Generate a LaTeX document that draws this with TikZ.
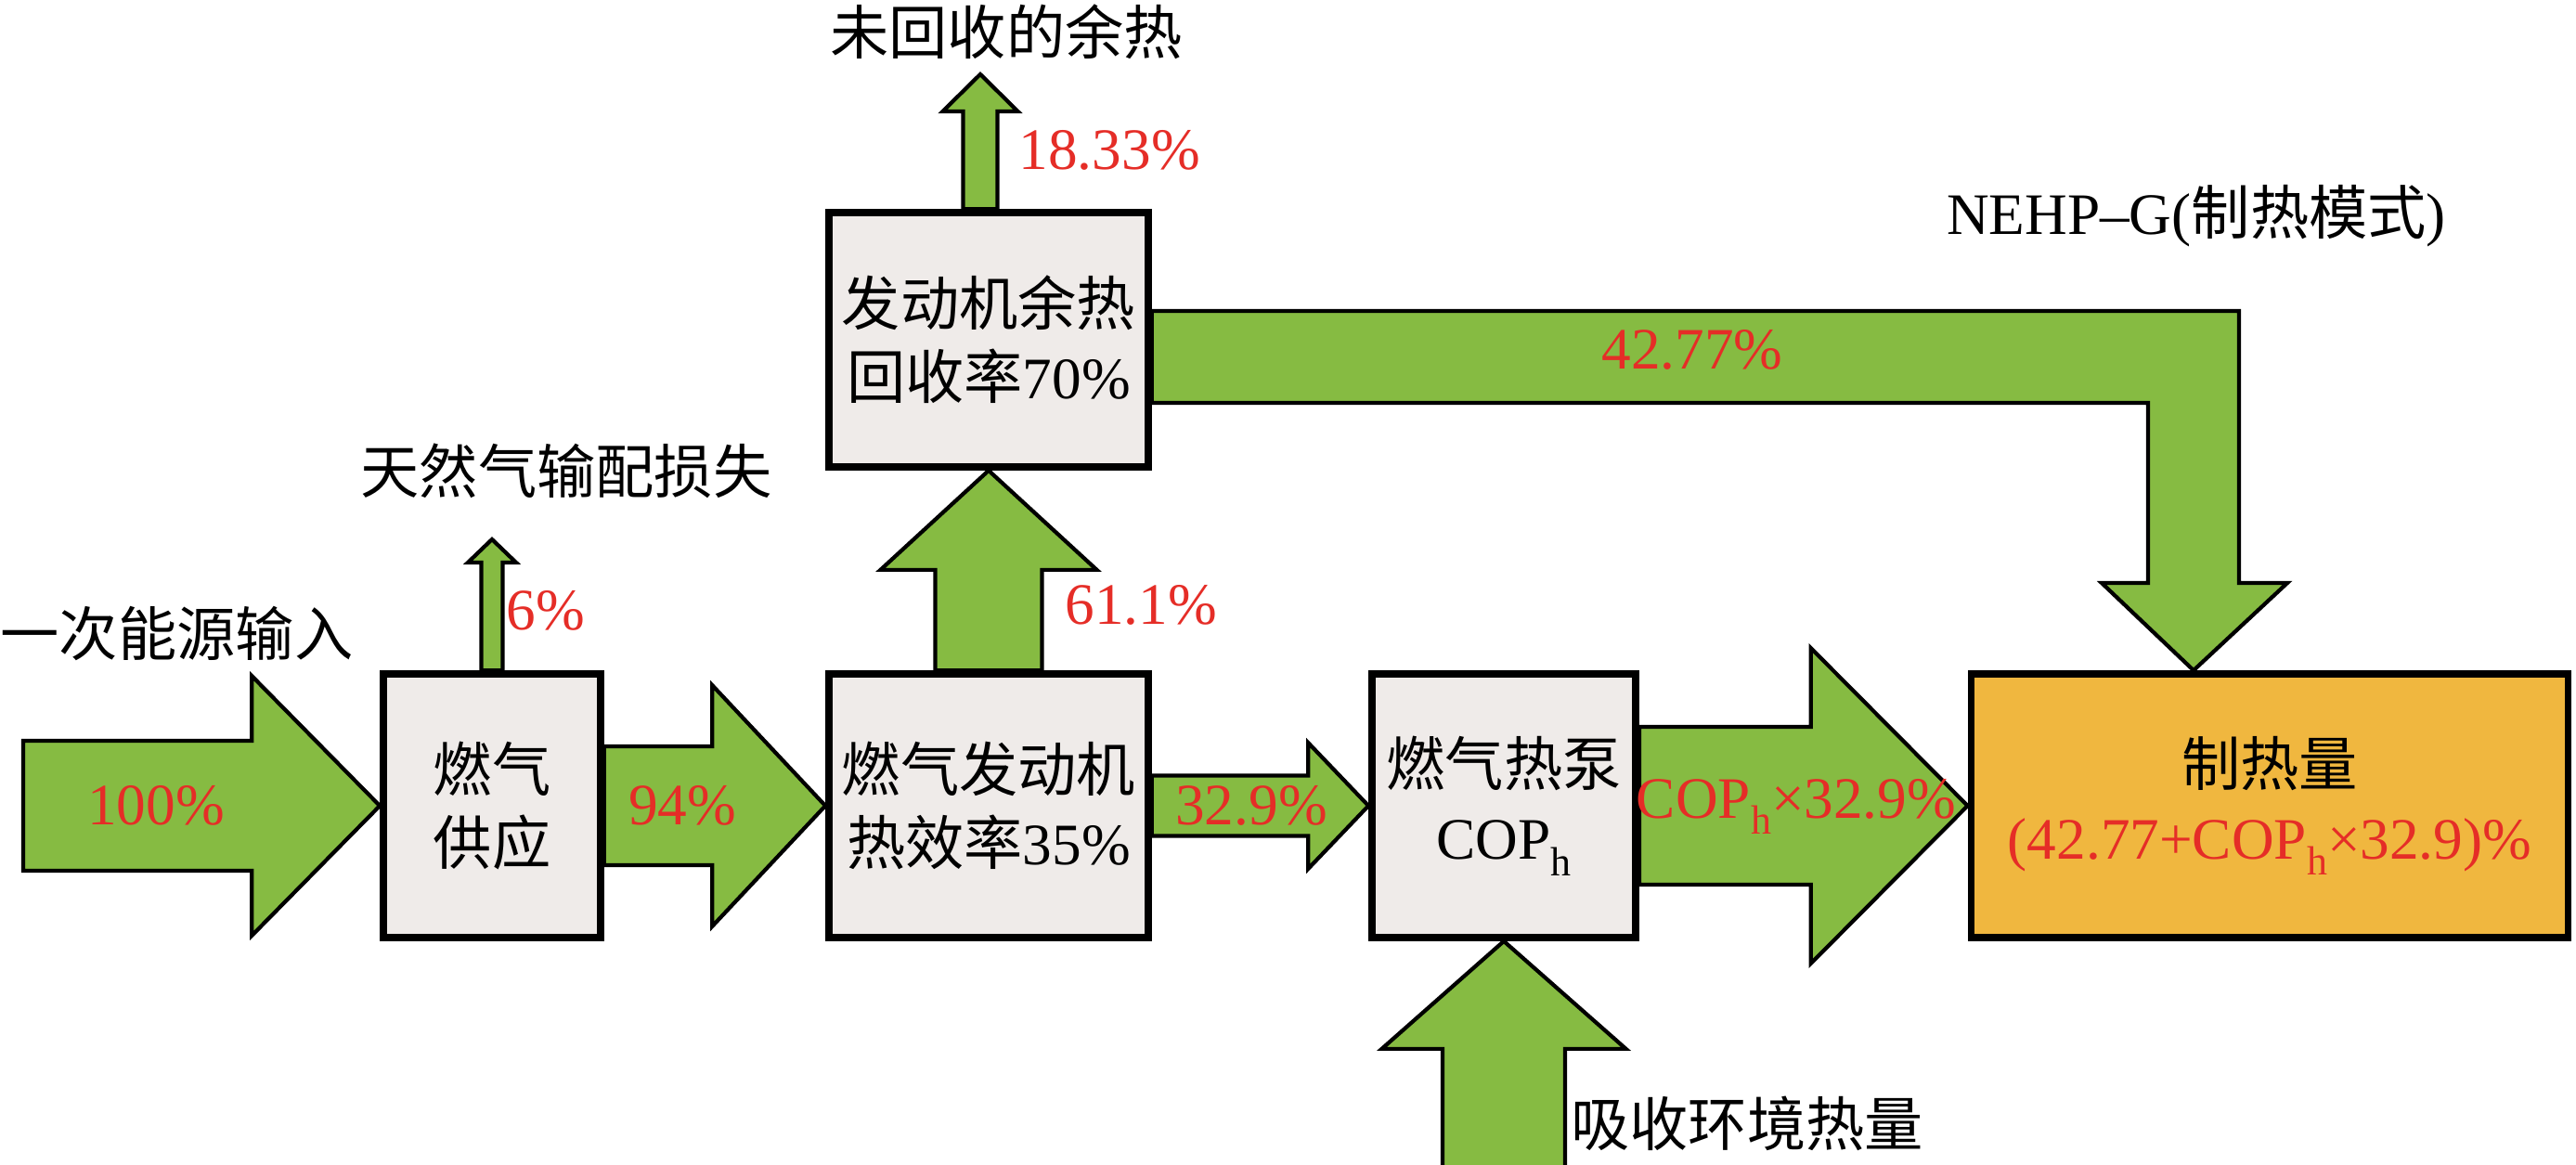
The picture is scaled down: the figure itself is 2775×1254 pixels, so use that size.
\documentclass[tikz,border=0pt]{standalone}
\usepackage{fontspec}
\setmainfont{Liberation Serif}
\newfontfamily\cjk{Noto Sans CJK SC}
\usetikzlibrary{calc}

\definecolor{flowgreen}{RGB}{134,187,66}
\definecolor{boxgray}{RGB}{239,235,233}
\definecolor{heatorange}{RGB}{240,183,63}
\definecolor{numred}{RGB}{229,45,39}

\newcommand{\COPh}{COP\raisebox{-0.6ex}{\fontsize{12.5}{12.5}\selectfont h}}
% block arrow: #1 from, #2 tip, #3 half shaft, #4 half head, #5 head length
\newcommand{\flowarrow}[5]{%
  \coordinate (h) at ($(#2)!#5!(#1)$);
  \draw[flow] ($(#1)!#3!90:(#2)$) -- ($(h)!#3!90:(#2)$) -- ($(h)!#4!90:(#2)$)
    -- (#2) -- ($(h)!#4!-90:(#2)$) -- ($(h)!#3!-90:(#2)$) -- ($(#1)!#3!-90:(#2)$) -- cycle;}

\begin{document}
\begin{tikzpicture}[x=0.1mm,y=-0.1mm,
  every node/.style={font=\fontsize{18}{22.5}\selectfont,inner sep=0pt},
  block/.style={draw,line width=2.2pt,fill=boxgray,align=center,minimum height=28.4mm},
  flow/.style={draw,line width=1.2pt,fill=flowgreen,line join=miter},
  num/.style={text=numred}]
\useasboundingbox (0,0) rectangle (2775,1254);
\clip (0,0) rectangle (2775,1254);

\node[block,minimum width=23.4mm] (sup) at (530,868) {{\cjk 燃气}\\{\cjk 供应}};
\node[block,minimum width=34.4mm] (eng) at (1065,868) {{\cjk 燃气发动机}\\{\cjk 热效率}35\%};
\node[block,minimum width=34.4mm,minimum height=27.4mm] (rec) at (1065,366) {{\cjk 发动机余热}\\{\cjk 回收率}70\%};
\node[block,minimum width=28.4mm] (hp) at (1620,868) {{\cjk 燃气热泵}\\\COPh};
\node[block,fill=heatorange,minimum width=64.3mm] (out) at (2445,868)
  {{\cjk 制热量}\\\textcolor{numred}{(42.77+\COPh{}×32.9)\%}};

\coordinate (src) at (25,868);
\coordinate (losstip) at (530,581);
\coordinate (wastesrc) at (rec.north -| 1056,0);
\coordinate (wastetip) at (1056,80);
\coordinate (envsrc) at (1620,1300);
\coordinate (heattip) at (2363,0 |- out.north);

\flowarrow{src}{sup.west}{7mm}{14mm}{13.8mm}
\flowarrow{sup.north}{losstip}{1.15mm}{2.6mm}{2.5mm}
\flowarrow{sup.east}{eng.west}{6.4mm}{13mm}{12.2mm}
\flowarrow{eng.north}{rec.south}{5.75mm}{11.65mm}{10.7mm}
\flowarrow{wastesrc}{wastetip}{1.85mm}{4.05mm}{4mm}
\flowarrow{eng.east}{hp.west}{3.25mm}{6.8mm}{6.5mm}
\flowarrow{hp.east}{out.west}{8.5mm}{17mm}{16.9mm}
\flowarrow{envsrc}{hp.south}{6.6mm}{13.15mm}{11.6mm}
\draw[flow] (rec.east |- 0,335) -- (2412,335) -- (2412,628) -- (2464,628) -- (heattip)
  -- (2264,628) -- (2314,628) -- (2314,434) -- (rec.east |- 0,434) -- cycle;

\node[anchor=west] (inlbl) at (0,682) {\cjk 一次能源输入};
\node[num] (p100) at (168,868) {100\%};
\node (losslbl) at (610,507) {\cjk 天然气输配损失};
\node[num,anchor=west] (p6) at (545,658) {6\%};
\node[num] (p94) at (735,868) {94\%};
\node[num,anchor=west] (p611) at (1147,652) {61.1\%};
\node[num,anchor=west] (p1833) at (1097,162) {18.33\%};
\node (wastelbl) at (1084,34) {\cjk 未回收的余热};
\node[num] (p4277) at (1823,377) {42.77\%};
\node (modelbl) at (2366,233) {NEHP--G({\cjk 制热模式})};
\node[num] (p329) at (1348,868) {32.9\%};
\node[num] (pcop) at (1935,869) {\COPh×32.9\%};
\node (envlbl) at (1882,1210) {\cjk 吸收环境热量};
\end{tikzpicture}
\end{document}
